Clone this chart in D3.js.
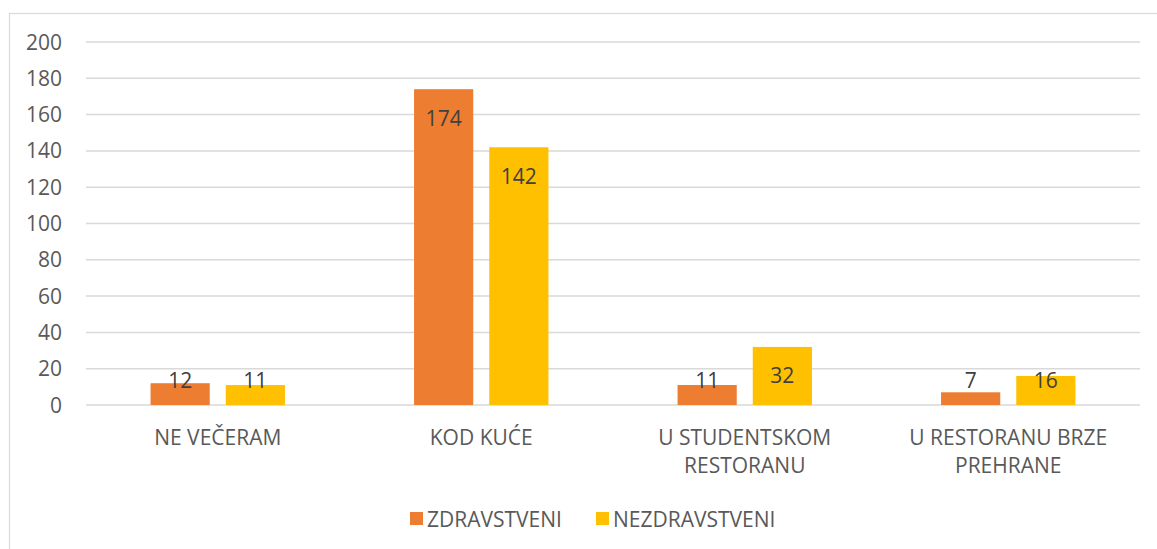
<!DOCTYPE html>
<html>
<head>
<meta charset="utf-8">
<script src="https://cdn.jsdelivr.net/npm/d3@7"></script>
<style>
  body { margin: 0; background: #fff; }
  text { font-family: "Open Sans", sans-serif; fill: #595959; }
</style>
</head>
<body>
<div class="chart"></div>
<script>
var w = 1157;
var h = 549;

// Data
var categories = [["NE VEČERAM"], ["KOD KUĆE"], ["U STUDENTSKOM", "RESTORANU"], ["U RESTORANU BRZE", "PREHRANE"]];
var seriesNames = ["ZDRAVSTVENI", "NEZDRAVSTVENI"];
var zdravstveni = [12, 174, 11, 7];
var nezdravstveni = [11, 142, 32, 16];
var yTicks = [0, 20, 40, 60, 80, 100, 120, 140, 160, 180, 200];

var colors = ["#ED7D31", "#FFC000"];
var series = [zdravstveni, nezdravstveni];

var svg = d3.select(".chart")
    .append("svg")
    .attr("width", w)
    .attr("height", h);

// chart frame
svg.append("rect")
    .attr("x", 9.5)
    .attr("y", 13.5)
    .attr("width", 1160)
    .attr("height", 560)
    .attr("fill", "none")
    .attr("stroke", "#d9d9d9")
    .attr("stroke-width", 1.2);

var plotLeft = 86, plotRight = 1140, plotTop = 42, plotBottom = 405;

var y = d3.scaleLinear()
    .domain([0, 200])
    .range([plotBottom, plotTop]);

var x0 = d3.scaleBand()
    .domain(d3.range(categories.length))
    .range([plotLeft, plotRight])
    .paddingInner(0.49)
    .paddingOuter(0.245);

var x1 = d3.scaleBand()
    .domain(d3.range(series.length))
    .range([0, x0.bandwidth()])
    .paddingInner(0.213)
    .paddingOuter(0);

// gridlines
svg.append("g")
    .selectAll("line")
    .data(yTicks)
    .enter()
    .append("line")
    .attr("x1", plotLeft)
    .attr("x2", plotRight)
    .attr("y1", d => y(d))
    .attr("y2", d => y(d))
    .attr("stroke", "#d9d9d9")
    .attr("stroke-width", 1.5);

// y tick labels
svg.append("g")
    .selectAll("text")
    .data(yTicks)
    .enter()
    .append("text")
    .attr("x", 62)
    .attr("y", d => y(d))
    .attr("dy", "0.36em")
    .attr("text-anchor", "end")
    .style("font-size", "21px")
    .text(d => d);

// bars
var groups = svg.append("g")
    .selectAll("g")
    .data(categories.map((c, i) => i))
    .enter()
    .append("g")
    .attr("transform", i => "translate(" + x0(i) + ",0)");

groups.selectAll("rect")
    .data(i => series.map((s, j) => ({ j: j, v: s[i] })))
    .enter()
    .append("rect")
    .attr("x", d => x1(d.j))
    .attr("width", x1.bandwidth())
    .attr("y", d => y(d.v))
    .attr("height", d => plotBottom - y(d.v))
    .attr("fill", d => colors[d.j]);

// data labels (inside end, kept above the axis for short bars)
groups.selectAll("text")
    .data(i => series.map((s, j) => ({ j: j, v: s[i] })))
    .enter()
    .append("text")
    .attr("x", d => x1(d.j) + x1.bandwidth() / 2)
    .attr("y", d => Math.min(y(d.v) + 29, plotBottom - 25))
    .attr("dy", "0.36em")
    .attr("text-anchor", "middle")
    .style("font-size", "21px")
    .style("fill", "#404040")
    .text(d => d.v);

// category labels
svg.append("g")
    .selectAll("text")
    .data(categories)
    .enter()
    .append("text")
    .attr("x", (d, i) => x0(i) + x0.bandwidth() / 2)
    .attr("y", 437)
    .attr("text-anchor", "middle")
    .style("font-size", "21px")
    .each(function (d) {
        var t = d3.select(this);
        d.forEach((line, k) => {
            t.append("tspan")
                .attr("x", t.attr("x"))
                .attr("dy", k === 0 ? "0.36em" : "28px")
                .text(line);
        });
    });

// legend
var legendX = [410, 596];
var legend = svg.append("g")
    .selectAll("g")
    .data(seriesNames)
    .enter()
    .append("g")
    .attr("transform", (d, i) => "translate(" + legendX[i] + ",512)");

legend.append("rect")
    .attr("width", 13)
    .attr("height", 13)
    .attr("fill", (d, i) => colors[i]);

legend.append("text")
    .attr("x", 17)
    .attr("y", 7)
    .attr("dy", "0.36em")
    .style("font-size", "21px")
    .text(d => d);
</script>
</body>
</html>
